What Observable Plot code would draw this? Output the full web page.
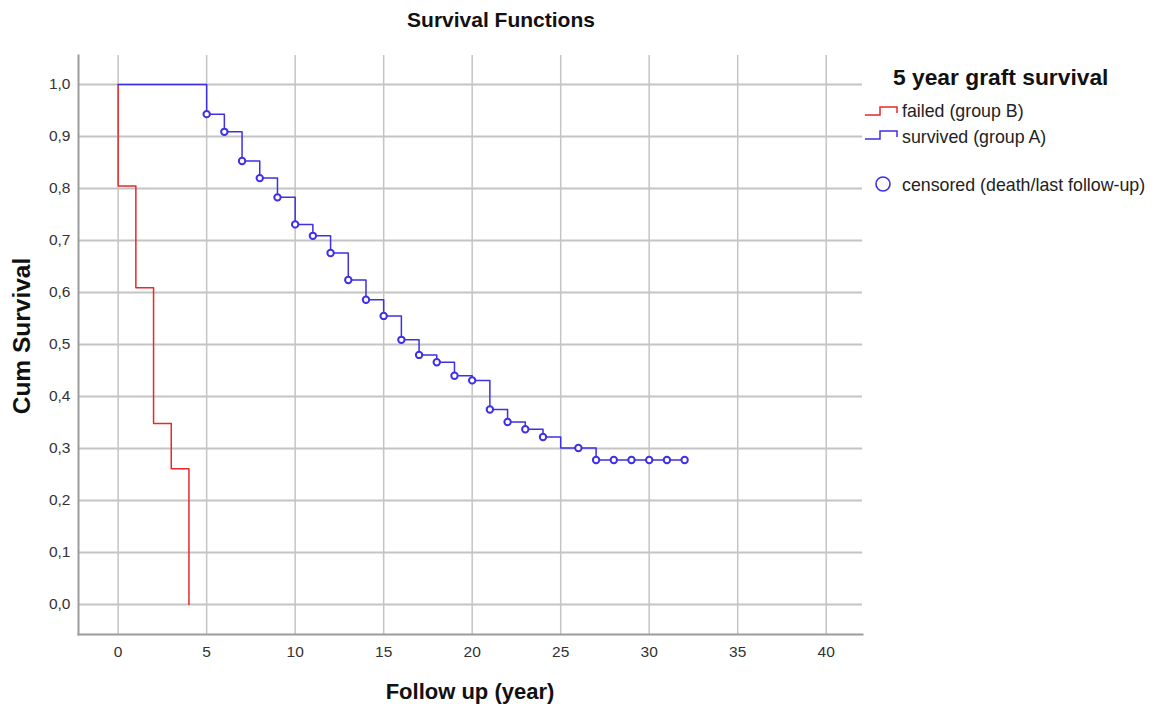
<!DOCTYPE html>
<html>
<head>
<meta charset="utf-8">
<script src="https://cdn.jsdelivr.net/npm/d3@7"></script>
<script src="https://cdn.jsdelivr.net/npm/@observablehq/plot@0.6"></script>
<style>
  html, body { margin: 0; padding: 0; background: #fff; }
  #wrap { position: relative; width: 1159px; height: 706px; font-family: "Liberation Sans", Arial, sans-serif; color: #111; }
  .abs { position: absolute; white-space: nowrap; }
</style>
</head>
<body>
<div id="wrap"></div>
<script>
// ---- data ----
const titleText = "Survival Functions";
const xTitle = "Follow up (year)";
const yTitle = "Cum Survival";
const legendTitle = "5 year graft survival";
const groupLabels = ["failed (group B)", "survived (group A)"];
const censorLabel = "censored (death/last follow-up)";

const xTicks = [0, 5, 10, 15, 20, 25, 30, 35, 40];
const yTicks = [0, 0.1, 0.2, 0.3, 0.4, 0.5, 0.6, 0.7, 0.8, 0.9, 1.0];

// group B (failed) step curve
const bTime = [0, 0, 1, 2, 3, 4];
const bSurv = [1.0, 0.805, 0.609, 0.348, 0.261, 0.0];

// group A (survived) step curve
const aTime = [0, 5, 6, 7, 8, 9, 10, 11, 12, 13, 14, 15, 16, 17, 18, 19, 20, 21, 22, 23, 24, 25, 27, 32];
const aSurv = [1.0, 0.943, 0.909, 0.853, 0.820, 0.783, 0.731, 0.709, 0.676, 0.624, 0.586, 0.555, 0.509, 0.480, 0.466, 0.440, 0.431, 0.375, 0.351, 0.337, 0.322, 0.301, 0.278, 0.278];

// group A censored marks
const cTime = [5, 6, 7, 8, 9, 10, 11, 12, 13, 14, 15, 16, 17, 18, 19, 20, 21, 22, 23, 24, 26, 27, 28, 29, 30, 31, 32];
const cSurv = [0.943, 0.909, 0.853, 0.820, 0.783, 0.731, 0.709, 0.676, 0.624, 0.586, 0.555, 0.509, 0.480, 0.466, 0.440, 0.431, 0.375, 0.351, 0.337, 0.322, 0.301, 0.278, 0.278, 0.278, 0.278, 0.278, 0.278];

const xDomain = [-2.24, 42.05];
const yDomain = [-0.0577, 1.0558];

const RED = "#e8282c";
const BLUE = "#3f2fe6";
const GRID = "#c4c4c4";
const AXIS = "#9c9c9c";

const bData = bTime.map((t, i) => ({t, s: bSurv[i]}));
const aData = aTime.map((t, i) => ({t, s: aSurv[i]}));
const cData = cTime.map((t, i) => ({t, s: cSurv[i]}));

const chart = Plot.plot({
  width: 1159,
  height: 706,
  marginLeft: 78,
  marginRight: 297,
  marginTop: 55,
  marginBottom: 72,
  style: {fontFamily: "'Liberation Sans', Arial, sans-serif", fontSize: "15px", color: "#333", background: "#fff"},
  x: {domain: xDomain, ticks: xTicks},
  y: {domain: yDomain, ticks: yTicks},
  marks: [
    Plot.gridX(xTicks, {stroke: GRID, strokeOpacity: 1, strokeWidth: 1.5}),
    Plot.gridY(yTicks, {stroke: GRID, strokeOpacity: 1, strokeWidth: 2}),
    Plot.frame({anchor: "left", stroke: AXIS, strokeWidth: 2}),
    Plot.frame({anchor: "bottom", stroke: AXIS, strokeWidth: 2}),
    Plot.axisX(xTicks, {tickSize: 0, tickPadding: 11, label: null, fontSize: 15.5, fill: "#333"}),
    Plot.axisY(yTicks, {tickSize: 0, tickPadding: 8, label: null, fontSize: 15.5, fill: "#333",
      tickFormat: d => d.toFixed(1).replace(".", ",")}),
    Plot.line(bData, {x: "t", y: "s", curve: "step-after", stroke: RED, strokeWidth: 1.5}),
    Plot.line(aData, {x: "t", y: "s", curve: "step-after", stroke: BLUE, strokeWidth: 1.5}),
    Plot.dot(cData, {x: "t", y: "s", r: 3.2, stroke: BLUE, strokeWidth: 2, fill: "#fff"})
  ]
});

const wrap = document.getElementById("wrap");
chart.style.position = "absolute";
chart.style.left = "0px";
chart.style.top = "0px";
wrap.appendChild(chart);

function addText(text, css) {
  const d = document.createElement("div");
  d.className = "abs";
  d.textContent = text;
  Object.assign(d.style, css);
  wrap.appendChild(d);
  return d;
}

// Title
addText(titleText, {left: "0px", width: "1002px", textAlign: "center", top: "7px", fontSize: "21px", fontWeight: "bold", lineHeight: "26px"});
// X axis title
addText(xTitle, {left: "0px", width: "940px", textAlign: "center", top: "678px", fontSize: "22px", fontWeight: "bold", lineHeight: "28px"});
// Y axis title (rotated)
addText(yTitle, {left: "22px", top: "336px", fontSize: "24.5px", fontWeight: "bold", lineHeight: "28px",
  transform: "translate(-50%, -50%) rotate(-90deg)"});

// Legend
addText(legendTitle, {left: "893px", top: "63px", fontSize: "22.8px", fontWeight: "bold", lineHeight: "28px"});
const ns = "http://www.w3.org/2000/svg";
const lg = document.createElementNS(ns, "svg");
lg.setAttribute("width", "40");
lg.setAttribute("height", "100");
lg.style.position = "absolute";
lg.style.left = "860px";
lg.style.top = "100px";
const legendColors = [RED, BLUE];
const legendY = [115, 139];
legendColors.forEach((c, i) => {
  const y0 = legendY[i] - 100;
  const p = document.createElementNS(ns, "path");
  p.setAttribute("d", `M5,${y0} H20 V${y0 - 8} H37 V${y0 - 2}`);
  p.setAttribute("fill", "none");
  p.setAttribute("stroke", c);
  p.setAttribute("stroke-width", "1.5");
  lg.appendChild(p);
});
const circ = document.createElementNS(ns, "circle");
circ.setAttribute("cx", "23");
circ.setAttribute("cy", "84");
circ.setAttribute("r", "7");
circ.setAttribute("fill", "none");
circ.setAttribute("stroke", BLUE);
circ.setAttribute("stroke-width", "1.6");
lg.appendChild(circ);
wrap.appendChild(lg);

addText(groupLabels[0], {left: "902px", top: "100px", fontSize: "17.8px", lineHeight: "22px", color: "#222"});
addText(groupLabels[1], {left: "902px", top: "126px", fontSize: "17.8px", lineHeight: "22px", color: "#222"});
addText(censorLabel, {left: "902px", top: "174px", fontSize: "17.8px", lineHeight: "22px", color: "#222"});
</script>
</body>
</html>
